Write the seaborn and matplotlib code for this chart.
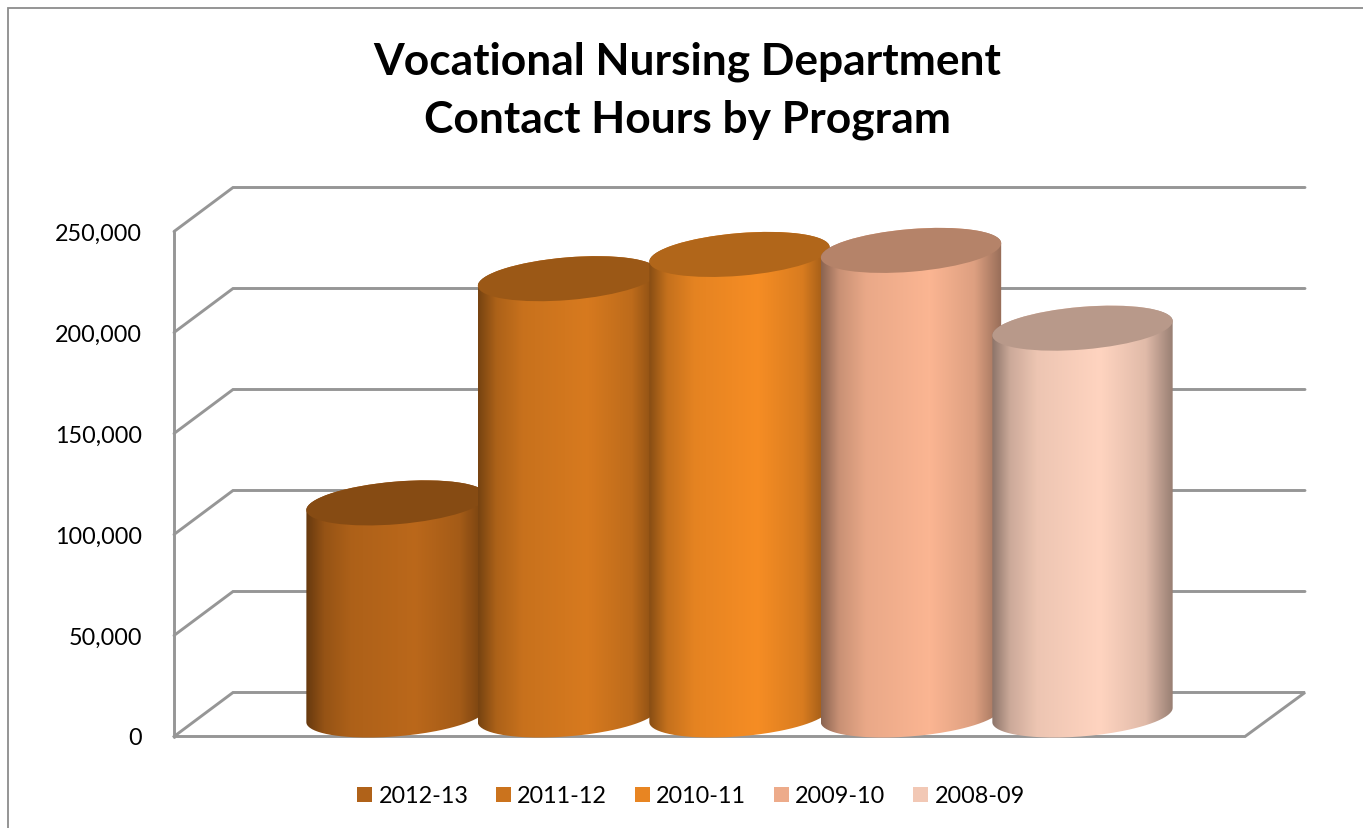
#!/usr/bin/env python3
# -*- coding: utf-8 -*-
import numpy as np
import pandas as pd
import matplotlib
matplotlib.use("Agg")
import matplotlib.pyplot as plt
import seaborn as sns
from matplotlib.colors import to_rgb
from matplotlib.lines import Line2D
from matplotlib.patches import Ellipse
from matplotlib.path import Path
from matplotlib.transforms import IdentityTransform

#%% data
years = ['2012-13', '2011-12', '2010-11', '2009-10', '2008-09']
hours = [105000, 216000, 228000, 230000, 191500]
colors = ['#B06219', '#CB731D', '#E88522', '#EDAB8A', '#F2C8B5']
ticks = [0, 50000, 100000, 150000, 200000, 250000]
title = 'Vocational Nursing Department\nContact Hours by Program'

W, H = 1363, 829
sns.set_style('white')
plt.rcParams['font.family'] = ['Lato', 'DejaVu Sans']

fig = plt.figure(figsize=(W / 100, H / 100), dpi=100, facecolor='white')

# front wall axis, only holds the tick labels
front_y, top_y = 737, 232
scale = (front_y - top_y) / ticks[-1]
ax_front = fig.add_axes([174 / W, (H - front_y) / H, 1 / W, (front_y - top_y) / H])
ax_front.set_ylim(0, ticks[-1])
ax_front.set_yticks(ticks)
ax_front.set_yticklabels([f'{t:,}' for t in ticks], fontsize=16.8, color='black')
ax_front.tick_params(axis='y', length=0, pad=23)
ax_front.set_xticks([])
ax_front.patch.set_alpha(0)
sns.despine(ax=ax_front, left=True, bottom=True)

# bars sit half way in the depth of the box
base_y, step, first_x = 716, 171.5, 396.5
pad_low, pad_high = 34, 505
left = first_x - 0.6 * step
ax = fig.add_axes([left / W, (H - base_y - pad_low) / H, 5.2 * step / W, (pad_low + pad_high) / H])
df = pd.DataFrame({'year': years, 'hours': hours})
sns.barplot(data=df, x='year', y='hours', hue='year', palette=colors, width=1.055,
            saturation=1, legend='full', ax=ax)
ax.set_xlim(-0.6, 4.6)
ax.set_ylim(-pad_low / scale, pad_high / scale)
handles, labels = ax.get_legend_handles_labels()
leg = ax.legend(handles, labels, loc='center', bbox_to_anchor=(691 / W, (H - 797) / H),
                bbox_transform=fig.transFigure, ncol=5, frameon=False, fontsize=16.8,
                handlelength=0.64, handleheight=0.64, handletextpad=0.26, columnspacing=1.2,
                labelcolor='black')
for patch in leg.get_patches():
    patch.set_edgecolor('none')
ax.set_xlabel('')
ax.set_ylabel('')
ax.set_xticks([])
ax.set_yticks([])
ax.patch.set_alpha(0)
sns.despine(ax=ax, left=True, bottom=True)

#%% cylinders on top of the seaborn bars
tilt = np.deg2rad(4.8)
minor = 21.3
stops = [0, 0.1, 0.25, 0.6, 0.85, 1]
shade = [0.55, 0.8, 0.93, 1, 0.88, 0.6]
ramp = np.interp(np.linspace(0, 1, 256), stops, shade)


def arc(cx, cy, a, start, end):
    t = np.linspace(start, end, 80)
    x = a * np.cos(t) * np.cos(tilt) - minor * np.sin(t) * np.sin(tilt)
    y = a * np.cos(t) * np.sin(tilt) + minor * np.sin(t) * np.cos(tilt)
    return np.column_stack([cx + x, cy + y])


for i, container in enumerate(ax.containers):
    bar = container[0]
    x0, x1 = bar.get_x(), bar.get_x() + bar.get_width()
    val = bar.get_height()
    (px0, py0), (px1, py1) = ax.transData.transform([(x0, 0), (x1, val)])
    cx, a = (px0 + px1) / 2, (px1 - px0) / 2
    t0 = np.arctan2(-minor * np.sin(tilt), a * np.cos(tilt))
    outline = np.vstack([arc(cx, py0, a, t0, t0 - np.pi),
                         arc(cx, py1, a, t0 - np.pi, t0 - 2 * np.pi)])
    centre = np.clip(np.array(to_rgb(colors[i])) * 1.06, 0, 1)
    grad = np.clip(centre[None, None, :] * ramp[None, :, None], 0, 1)
    im = ax.imshow(grad, extent=(x0, x1, -pad_low / scale, pad_high / scale), aspect='auto',
                   interpolation='bilinear', zorder=3 + 2 * i)
    im.set_clip_path(Path(outline, closed=False), IdentityTransform())
    cap = Ellipse((cx, py1), 2 * a, 2 * minor, angle=np.rad2deg(tilt), transform=IdentityTransform(),
                  facecolor=centre * 0.72, edgecolor='none', zorder=4 + 2 * i)
    ax.add_patch(cap)
    bar.set_alpha(0)
ax.set_xlim(-0.6, 4.6)
ax.set_ylim(-pad_low / scale, pad_high / scale)

#%% box lines, in pixels from the top left of the picture
grey = '#969696'


def pline(xs, ys, lw=2.1, color=grey):
    fig.add_artist(Line2D(xs, [H - y - 0.5 for y in ys], color=color, lw=lw, zorder=-1,
                          transform=IdentityTransform(), solid_joinstyle='miter'))


for t in ticks[1:]:
    y = front_y - t * scale
    pline([174, 233, 1305], [y, y - 44, y - 44])
pline([174, 174], [front_y, top_y])
pline([174, 1245, 1305, 233, 174], [front_y, front_y, 693, 693, front_y])
pline([8, 8, W], [H, 8, 8], lw=1.3, color='#8c8c8c')

fig.suptitle(title, x=687 / W, y=(H - 41) / H, va='top', fontsize=31.9, fontweight='bold',
             color='black', linespacing=1.55)

fig.savefig('out.png', dpi=100)
